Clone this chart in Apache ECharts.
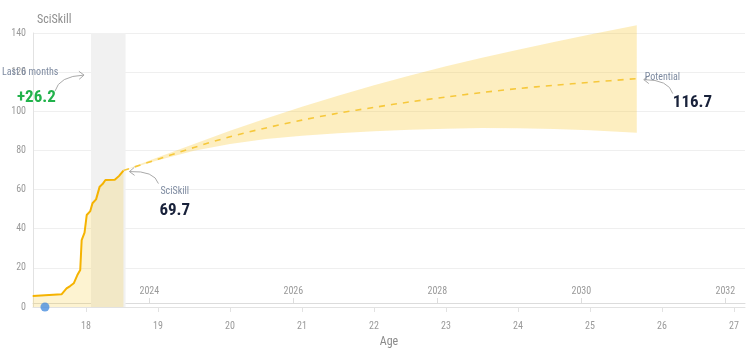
<!DOCTYPE html>
<html>
<head>
<meta charset="utf-8">
<script src="https://cdn.jsdelivr.net/npm/echarts@6/dist/echarts.min.js"></script>
<style>
html,body{margin:0;padding:0;background:#fff;}
#chart{width:750px;height:353px;}
</style>
</head>
<body>
<div id="chart"></div>
<script>
// ---- data ----
var historyAge   = [17.26, 17.66, 17.73, 17.78, 17.83, 17.88, 17.92, 17.94, 17.98, 18.01, 18.06, 18.09, 18.14, 18.19, 18.23, 18.27, 18.40, 18.46, 18.52];
var historyScore = [5.6, 6.5, 9.5, 10.7, 12.1, 16.3, 18.9, 34.2, 38.0, 47.0, 49.0, 53.0, 55.0, 61.5, 62.8, 64.9, 65.0, 67.0, 69.7];

var forecastAge    = [18.52, 19.0, 19.5, 20.0, 20.5, 21.0, 21.5, 22.0, 22.5, 23.0, 23.5, 24.0, 24.5, 25.0, 25.65];
var forecastMedian = [69.7, 75.5, 81.5, 87.0, 91.5, 95.5, 99.0, 102.0, 104.8, 107.3, 109.6, 111.6, 113.3, 114.8, 116.7];
var forecastUpper  = [69.7, 76.5, 83.3, 90.0, 96.3, 102.3, 108.0, 113.3, 118.3, 123.0, 127.4, 131.5, 135.4, 139.2, 144.0];
var forecastLower  = [69.7, 75.0, 79.8, 83.3, 85.8, 87.5, 88.8, 89.8, 90.6, 91.1, 91.4, 91.3, 91.0, 90.3, 89.0];

var ageTicks  = [18, 19, 20, 21, 22, 23, 24, 25, 26, 27];
var yearTicks = [2024, 2026, 2028, 2030, 2032];
var ageMin = 17.264, ageMax = 27.153;
var birthYearOffset = 2005.12;   // year = age + offset
var recentWindow = [18.07, 18.55]; // last 6 months band
var currentMarker = [17.43, 0];

var currentValue = 69.7, potentialValue = 116.7, recentGain = '+26.2';

// ---- chart ----
var FONT = '"Liberation Sans Narrow", "Roboto Condensed", Roboto, sans-serif';
function pairs(xs, ys){ return xs.map(function(x,i){ return [x, ys[i]]; }); }
var bandData = forecastAge.map(function(a,i){ return [a, forecastLower[i], forecastUpper[i]]; });

var chart = echarts.init(document.getElementById('chart'), null, {renderer:'canvas'});
var option = {
  animation: false,
  grid: {left: 33, right: 5, top: 33, bottom: 46},
  xAxis: [{
    type: 'value', min: ageMin, max: ageMax, position: 'bottom', offset: 4,
    name: 'Age', nameLocation: 'middle', nameGap: 25,
    nameTextStyle: {color: '#8a8a8a', fontSize: 12, fontFamily: FONT},
    axisLine: {show: true, lineStyle: {color: '#e2e2e2', width: 1}},
    axisTick: {show: true, length: 5, lineStyle: {color: '#e2e2e2'}, customValues: ageTicks},
    axisLabel: {color: '#9a9a9a', fontSize: 10, margin: 10, fontFamily: FONT, customValues: ageTicks},
    splitLine: {show: false}
  }, {
    type: 'value', min: ageMin + birthYearOffset, max: ageMax + birthYearOffset, position: 'bottom', offset: -4,
    axisLine: {show: true, onZero: false, lineStyle: {color: '#dcdcdc', width: 1}},
    axisTick: {show: true, inside: true, length: 5, lineStyle: {color: '#dcdcdc'}, customValues: yearTicks},
    axisLabel: {inside: true, color: '#9a9a9a', fontSize: 10, margin: 7, fontFamily: FONT, customValues: yearTicks,
      formatter: function(v){ return String(Math.round(v)); }},
    splitLine: {show: false}
  }],
  yAxis: {
    type: 'value', min: 0, max: 140, interval: 20,
    name: 'SciSkill', nameLocation: 'end', nameGap: 7,
    nameTextStyle: {color: '#8f8f8f', fontSize: 12, align: 'left', padding: [0,0,0,4], fontFamily: FONT},
    axisLine: {show: true, lineStyle: {color: '#e2e2e2'}},
    axisTick: {show: false},
    axisLabel: {color: '#9a9a9a', fontSize: 10, margin: 7, fontFamily: FONT},
    splitLine: {show: true, showMinLine: false, lineStyle: {color: '#efefef', width: 1}}
  },
  series: [
    {
      name: 'window', type: 'line', data: [], z: 1, silent: true,
      markArea: {silent: true, itemStyle: {color: '#f1f1f1'},
        data: [[{xAxis: recentWindow[0]}, {xAxis: recentWindow[1]}]]}
    },
    {
      name: 'band', type: 'custom', data: bandData, clip: false, silent: true, z: 2,
      encode: {x: 0, y: [1, 2]},
      renderItem: function(params, api){
        if (params.dataIndex !== 0) return null;
        var up = [], lo = [];
        for (var i = 0; i < bandData.length; i++) {
          up.push(api.coord([bandData[i][0], bandData[i][2]]));
          lo.push(api.coord([bandData[i][0], bandData[i][1]]));
        }
        return {type: 'polygon', shape: {points: up.concat(lo.reverse())},
          style: {fill: 'rgba(247,199,45,0.30)', stroke: null}};
      }
    },
    {
      name: 'history', type: 'line', data: pairs(historyAge, historyScore),
      symbol: 'none', lineStyle: {color: '#f5b301', width: 2},
      areaStyle: {color: 'rgba(247,196,40,0.30)'}, z: 3
    },
    {
      name: 'median', type: 'line', data: pairs(forecastAge, forecastMedian), smooth: 0.3,
      symbol: 'none', lineStyle: {color: '#f6c83c', width: 1.6, type: [6, 6]}, z: 3
    },
    {
      name: 'now', type: 'scatter', data: [currentMarker], symbolSize: 9, clip: false,
      itemStyle: {color: '#4a8fdf'}, z: 5
    }
  ]
};
chart.setOption(option);

// ---- annotations anchored on data points ----
function px(a, v){ return chart.convertToPixel({xAxisIndex: 0, yAxisIndex: 0}, [a, v]); }
var labelColor = '#7d8aa0', valueColor = '#18213a', arrowColor = '#a9a9a9';
function arrow(from, ctrl, to){
  var dx = to[0] - ctrl[0], dy = to[1] - ctrl[1];
  var len = Math.sqrt(dx*dx + dy*dy) || 1; dx /= len; dy /= len;
  var s = 5, nx = -dy, ny = dx;
  return [
    {type: 'bezierCurve', silent: true, shape: {x1: from[0], y1: from[1], cpx1: ctrl[0], cpy1: ctrl[1], x2: to[0], y2: to[1]},
      style: {stroke: arrowColor, lineWidth: 1, fill: null}, z: 10},
    {type: 'polyline', silent: true, shape: {points: [
      [to[0] - dx*s + nx*s*0.8, to[1] - dy*s + ny*s*0.8], to, [to[0] - dx*s - nx*s*0.8, to[1] - dy*s - ny*s*0.8]]},
      style: {stroke: arrowColor, lineWidth: 1, fill: null}, z: 10}
  ];
}
var cur = px(historyAge[historyAge.length-1], currentValue);
var pot = px(forecastAge[forecastAge.length-1], potentialValue);
var win = px(recentWindow[0], 118.5);

var g = [];
// current
var curTip = [cur[0] + 6, cur[1] + 1];
g = g.concat(arrow([cur[0] + 35, cur[1] + 13], [cur[0] + 31, cur[1] + 0], curTip));
g.push({type: 'text', silent: true, z: 10, x: cur[0] + 37, y: cur[1] + 21,
  style: {text: 'SciSkill', fill: labelColor, fontSize: 10, fontFamily: FONT, verticalAlign: 'middle', align: 'left'}});
g.push({type: 'text', silent: true, z: 10, x: cur[0] + 36, y: cur[1] + 40,
  style: {text: String(currentValue), fill: valueColor, fontSize: 17, fontWeight: 'bold', fontFamily: FONT, verticalAlign: 'middle', align: 'left'}});
// potential
var potTip = [pot[0] + 7, pot[1] + 1];
g = g.concat(arrow([pot[0] + 36, pot[1] + 15], [pot[0] + 32, pot[1] + 1], potTip));
g.push({type: 'text', silent: true, z: 10, x: pot[0] + 8, y: pot[1] - 1,
  style: {text: 'Potential', fill: labelColor, fontSize: 10, fontFamily: FONT, verticalAlign: 'middle', align: 'left'}});
g.push({type: 'text', silent: true, z: 10, x: pot[0] + 36, y: pot[1] + 24,
  style: {text: String(potentialValue), fill: valueColor, fontSize: 17, fontWeight: 'bold', fontFamily: FONT, verticalAlign: 'middle', align: 'left'}});
// last 6 months
var winTip = [win[0] - 7, win[1] + 0];
g = g.concat(arrow([win[0] - 36, win[1] + 16], [win[0] - 32, win[1] + 1], winTip));
g.push({type: 'text', silent: true, z: 10, x: 2, y: win[1] - 3,
  style: {text: 'Last 6 months', fill: labelColor, fontSize: 10, fontFamily: FONT, verticalAlign: 'middle', align: 'left'}});
g.push({type: 'text', silent: true, z: 10, x: 17, y: win[1] + 23,
  style: {text: recentGain, fill: '#21b24b', fontSize: 17, fontWeight: 'bold', fontFamily: FONT, verticalAlign: 'middle', align: 'left'}});

chart.setOption({graphic: {elements: g}});
</script>
</body>
</html>
